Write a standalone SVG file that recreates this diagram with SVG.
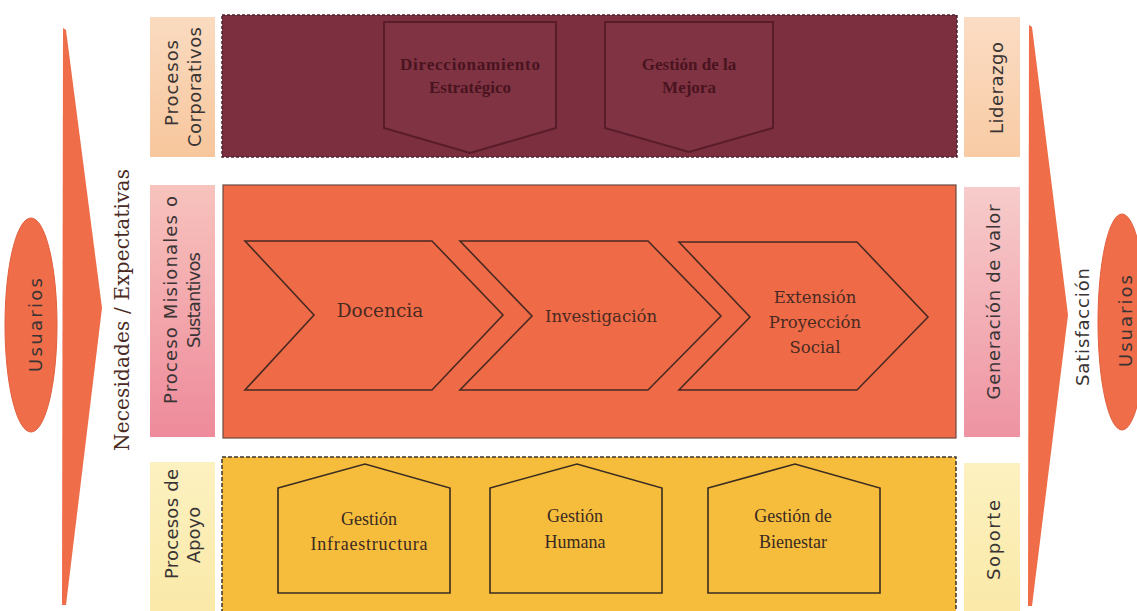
<svg xmlns="http://www.w3.org/2000/svg" width="1137" height="611" viewBox="0 0 1137 611">
<defs>
<style>
.lbl{font-family:"DejaVu Sans","Noto Sans",sans-serif;font-size:18px;fill:#3a3434;text-anchor:middle}
.ser{font-family:"Liberation Serif","DejaVu Serif",serif;fill:#3a2a22;text-anchor:middle}
.pal{font-family:"DejaVu Serif","Liberation Serif",serif;fill:#4a2a22;text-anchor:middle}
.top{font-family:"Liberation Serif","DejaVu Serif",serif;font-size:17px;font-weight:bold;fill:#4a1320;text-anchor:middle}
.arrow{fill:#f06d49}
.chev{fill:#ef6b47;stroke:#4a2a22;stroke-width:1.6}
.house{fill:#f6bd3d;stroke:#3a2c20;stroke-width:1.6}
.pent{fill:#7f3343;stroke:#5a1c2a;stroke-width:2}
</style>
<linearGradient id="gCorp" x1="0" y1="0" x2="0" y2="1"><stop offset="0" stop-color="#fadbc0"/><stop offset="1" stop-color="#f7c69c"/></linearGradient>
<linearGradient id="gMis" x1="0" y1="0" x2="0" y2="1"><stop offset="0" stop-color="#f7c3bd"/><stop offset="1" stop-color="#ee8a9b"/></linearGradient>
<linearGradient id="gLid" x1="0" y1="0" x2="0" y2="1"><stop offset="0" stop-color="#fbdcc4"/><stop offset="1" stop-color="#f8cba4"/></linearGradient>
<linearGradient id="gGen" x1="0" y1="0" x2="0" y2="1"><stop offset="0" stop-color="#f7cccb"/><stop offset="1" stop-color="#ee93a2"/></linearGradient>
<linearGradient id="gApo" x1="0" y1="0" x2="0" y2="1"><stop offset="0" stop-color="#fcf1c0"/><stop offset="1" stop-color="#fae9a8"/></linearGradient>
</defs>
<rect width="1137" height="611" fill="#ffffff"/>

<g id="connectors">
<path class="arrow" d="M63,28 L66,30 L102,308 L66,605 L62,605 Z"/>
<path class="arrow" d="M1029,25 L1032,27 L1068,315 L1032,606 L1028,606 Z"/>
</g>

<g id="usuarios-in">
<ellipse cx="31" cy="325" rx="26" ry="107" fill="#ef6d48" stroke="#e2603e" stroke-width="1"/>
<text class="lbl" transform="translate(42,325) rotate(-90)" font-size="21" textLength="94" lengthAdjust="spacing">Usuarios</text>
</g>

<g id="necesidades">
<text class="pal" transform="translate(129,310) rotate(-90)" font-size="20" textLength="282" lengthAdjust="spacing" fill="#3a2a22">Necesidades / Expectativas</text>
</g>

<g id="label-corporativos">
<rect x="150" y="17" width="65" height="140" fill="url(#gCorp)"/>
<text class="lbl" transform="translate(178,83) rotate(-90)" textLength="86" lengthAdjust="spacing">Procesos</text>
<text class="lbl" transform="translate(201,87) rotate(-90)" textLength="120" lengthAdjust="spacing">Corporativos</text>
</g>

<g id="label-misionales">
<rect x="150" y="185" width="65" height="252" fill="url(#gMis)"/>
<text class="lbl" transform="translate(177,300) rotate(-90)" textLength="208" lengthAdjust="spacing">Proceso Misionales o</text>
<text class="lbl" transform="translate(200,300) rotate(-90)" textLength="96" lengthAdjust="spacing">Sustantivos</text>
</g>

<g id="label-apoyo">
<rect x="150" y="462" width="65" height="149" fill="url(#gApo)"/>
<text class="lbl" transform="translate(178,524) rotate(-90)" textLength="110" lengthAdjust="spacing">Procesos de</text>
<text class="lbl" transform="translate(200,535) rotate(-90)">Apoyo</text>
</g>

<g id="band-corporativos">
<rect x="222" y="15" width="735" height="142" fill="#7b2f3f" stroke="#4c2430" stroke-width="1.5" stroke-dasharray="3,2"/>
<g id="direccionamiento">
<path class="pent" d="M384,22 L556,22 L556,128 L470,153 L384,128 Z"/>
<text class="top" x="470" y="70" textLength="140" lengthAdjust="spacing">Direccionamiento</text>
<text class="top" x="470" y="93">Estratégico</text>
</g>
<g id="mejora">
<path class="pent" d="M605,22 L773,22 L773,128 L689,152 L605,128 Z"/>
<text class="top" x="689" y="70">Gestión de la</text>
<text class="top" x="689" y="93">Mejora</text>
</g>
</g>

<g id="band-misionales">
<rect x="223" y="185" width="733" height="253" fill="#ef6b47" stroke="#6a4a42" stroke-width="1.2"/>
<g id="docencia">
<path class="chev" d="M245,241 L432,241 L503,315 L432,390 L245,390 L314,315 Z"/>
<text class="pal" x="380" y="317" font-size="18.5">Docencia</text>
</g>
<g id="investigacion">
<path class="chev" d="M460,241 L648,241 L721,316 L648,390 L460,390 L532,316 Z"/>
<text class="pal" x="601" y="322" font-size="16.5">Investigación</text>
</g>
<g id="extension">
<path class="chev" d="M679,242 L857,242 L928,317 L857,390 L679,390 L750,317 Z"/>
<text class="pal" x="815" y="303" font-size="16.5">Extensión</text>
<text class="pal" x="815" y="328" font-size="16.5">Proyección</text>
<text class="pal" x="815" y="353" font-size="16.5">Social</text>
</g>
</g>

<g id="band-apoyo">
<rect x="222" y="457" width="734" height="160" fill="#f6bd3d" stroke="#3e3430" stroke-width="1.5" stroke-dasharray="4,2"/>
<g id="infraestructura">
<path class="house" d="M278,488 L365,464 L450,488 L450,593 L278,593 Z"/>
<text class="ser" x="369" y="525" font-size="18">Gestión</text>
<text class="ser" x="369" y="550" font-size="18" textLength="117" lengthAdjust="spacing">Infraestructura</text>
</g>
<g id="humana">
<path class="house" d="M490,488 L577,464 L662,488 L662,593 L490,593 Z"/>
<text class="ser" x="575" y="522" font-size="18">Gestión</text>
<text class="ser" x="575" y="548" font-size="18">Humana</text>
</g>
<g id="bienestar">
<path class="house" d="M708,488 L795,464 L880,488 L880,593 L708,593 Z"/>
<text class="ser" x="793" y="522" font-size="18">Gestión de</text>
<text class="ser" x="793" y="548" font-size="18">Bienestar</text>
</g>
</g>

<g id="label-liderazgo">
<rect x="964" y="17" width="56" height="140" fill="url(#gLid)"/>
<text class="lbl" transform="translate(1003,88) rotate(-90)" textLength="92" lengthAdjust="spacing">Liderazgo</text>
</g>

<g id="label-generacion">
<rect x="964" y="187" width="56" height="250" fill="url(#gGen)"/>
<text class="lbl" transform="translate(1000,302) rotate(-90)" textLength="195" lengthAdjust="spacing">Generación de valor</text>
</g>

<g id="label-soporte">
<rect x="964" y="463" width="56" height="148" fill="url(#gApo)"/>
<text class="lbl" transform="translate(1000,540) rotate(-90)" textLength="80" lengthAdjust="spacing">Soporte</text>
</g>

<g id="satisfaccion">
<text class="lbl" transform="translate(1089,327) rotate(-90)" textLength="118" lengthAdjust="spacing">Satisfacción</text>
</g>

<g id="usuarios-out">
<ellipse cx="1122" cy="322" rx="24" ry="108" fill="#ef6d48" stroke="#e2603e" stroke-width="1"/>
<text class="lbl" transform="translate(1132,321) rotate(-90)" font-size="20" textLength="92" lengthAdjust="spacing">Usuarios</text>
</g>
</svg>
